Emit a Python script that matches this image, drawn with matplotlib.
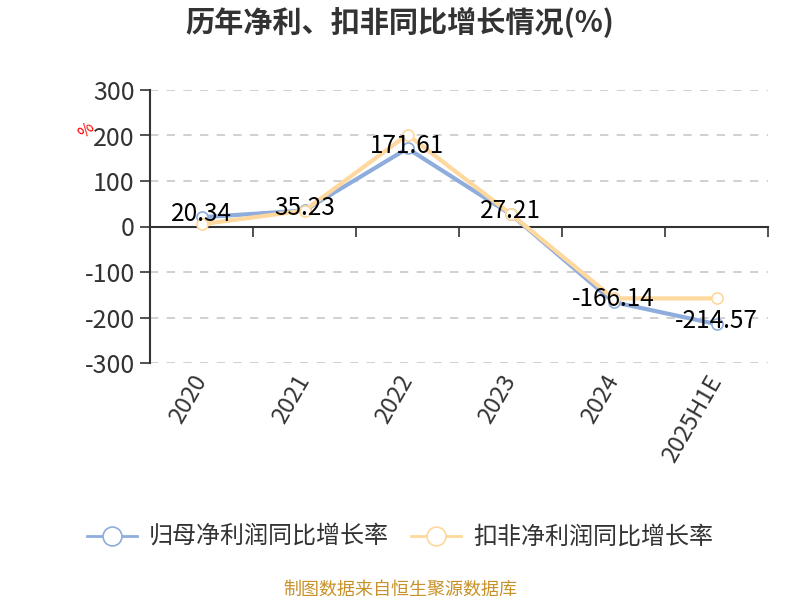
import matplotlib
matplotlib.use("Agg")
import matplotlib.pyplot as plt
import matplotlib.transforms as mtransforms

plt.rcParams['font.family'] = ['Noto Sans CJK SC', 'DejaVu Sans']
plt.rcParams['axes.unicode_minus'] = False

# Data
years = ["2020", "2021", "2022", "2023", "2024", "2025H1E"]
parent_growth = [20.34, 35.23, 171.61, 27.21, -166.14, -214.57]
deducted_growth = [5, 35, 202, 28, -158, -158]
legend_names = ["归母净利润同比增长率", "扣非净利润同比增长率"]
y_ticks = [-300, -200, -100, 0, 100, 200, 300]

blue = "#8eaddd"
orange = "#fed89c"
text_color = "#333333"

fig = plt.figure(figsize=(8, 6), dpi=100)
ax = fig.add_axes([0.1875, 0.395, 0.7725, 0.455])

x = list(range(len(years)))

l1, = ax.plot(x, parent_growth, color=blue, linewidth=3, marker="o",
              markersize=8, markerfacecolor="white", markeredgecolor=blue,
              markeredgewidth=1.2, zorder=3)
l2, = ax.plot(x, deducted_growth, color=orange, linewidth=3, marker="o",
              markersize=8, markerfacecolor="white", markeredgecolor=orange,
              markeredgewidth=1.2, zorder=4)

# Value labels for the first series
for xi, v in zip(x, parent_growth):
    ax.annotate(f"{v:.2f}", (xi, v), xytext=(0, 2), textcoords="offset points",
                ha="center", va="center", fontsize=17.5, color="black", zorder=5)

# Axes range and spines
ax.set_xlim(-0.5, len(years) - 0.5)
ax.set_ylim(-300, 300)
ax.spines["top"].set_visible(False)
ax.spines["right"].set_visible(False)
ax.spines["bottom"].set_position(("data", 0))
ax.spines["bottom"].set_color(text_color)
ax.spines["bottom"].set_linewidth(1.5)
ax.spines["left"].set_color(text_color)
ax.spines["left"].set_linewidth(1.5)

# Y axis ticks and grid
ax.set_yticks(y_ticks)
ax.tick_params(axis="y", length=7, width=1.2, color=text_color,
               labelsize=18, labelcolor=text_color, pad=4)
for t in y_ticks:
    if t != 0:
        ax.axhline(t, color="#c8c8c8", linestyle=(0, (5, 5)), linewidth=1.2, zorder=1)

# X axis: ticks at category boundaries, labels below the plot
ax.set_xticks([i - 0.5 for i in range(len(years) + 1)])
ax.set_xticklabels([])
ax.tick_params(axis="x", length=7, width=1.2, color=text_color, direction="out")
trans = mtransforms.blended_transform_factory(ax.transData, ax.transAxes)
for xi, name in zip(x, years):
    ax.text(xi - 0.1, -0.03, name, transform=trans, rotation=60,
            ha="right", va="top", fontsize=17, color=text_color,
            rotation_mode="anchor")

# Unit label
fig.text(0.108, 0.783, "%", color="red", fontsize=12, rotation=45,
         ha="center", va="center")

# Title
fig.text(0.5, 0.962, "历年净利、扣非同比增长情况(%)", ha="center", va="center",
         fontsize=21, fontweight="bold", color=text_color)

# Legend
leg = fig.legend([l1, l2], legend_names, loc="center", bbox_to_anchor=(0.5, 0.105),
                 ncol=2, frameon=False, fontsize=17.3, handlelength=2.1,
                 columnspacing=0.9, handletextpad=0.5, labelcolor=text_color,
                 markerscale=1.7)
for h in leg.legend_handles:
    h.set_linewidth(2)

# Source
fig.text(0.5, 0.017, "制图数据来自恒生聚源数据库", ha="center", va="center",
         fontsize=13, color="#c8922a")

fig.savefig("out.png", dpi=100)
